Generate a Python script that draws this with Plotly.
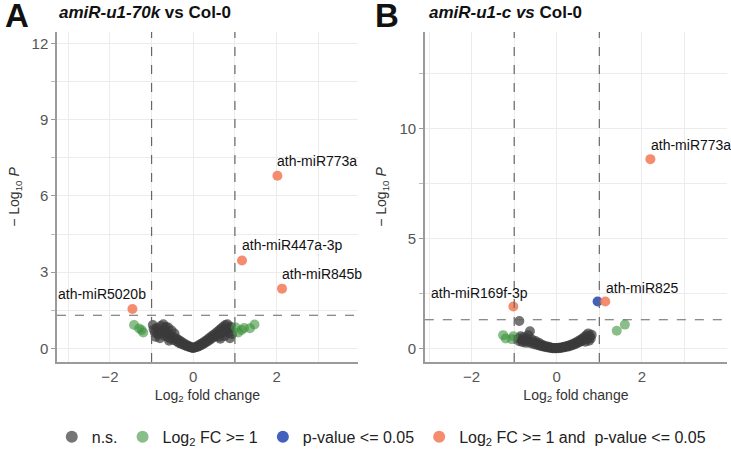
import plotly.graph_objects as go

# ---- panel A: amiR-u1-70k vs Col-0 ----
a_ns_x = [-0.97, -0.95, -0.92, -0.88, -0.85, -0.82, -0.78, -0.76, -0.72, -0.70, -0.68, -0.65, -0.62,
          -0.60, -0.57, -0.55, -0.52, -0.50, -0.47, -0.45, -0.42, -0.40, -0.37, -0.35, -0.32, -0.30,
          -0.27, -0.25, -0.22, -0.20, -0.17, -0.15, -0.12, -0.10, -0.07, -0.05, -0.03, 0.00, 0.02,
          0.05, 0.08, 0.10, 0.13, 0.15, 0.18, 0.20, 0.23, 0.25, 0.28, 0.30, 0.33, 0.35, 0.38, 0.40,
          0.43, 0.45, 0.48, 0.50, 0.53, 0.55, 0.58, 0.60, 0.63, 0.65, 0.67, 0.70, 0.72, 0.75, 0.77,
          0.80, 0.82, 0.85, 0.88, 0.90, 0.93, -0.90, -0.80, -0.66, -0.58, 0.62, 0.74, 0.86]
a_ns_y = [0.92, 0.75, 0.62, 0.80, 0.55, 0.70, 0.88, 0.60, 0.95, 0.50, 0.75, 0.62, 0.45,
          0.82, 0.55, 0.38, 0.70, 0.45, 0.33, 0.58, 0.40, 0.28, 0.35, 0.22, 0.30, 0.18,
          0.24, 0.15, 0.19, 0.11, 0.14, 0.08, 0.10, 0.05, 0.06, 0.03, 0.02, 0.01, 0.02,
          0.04, 0.07, 0.05, 0.12, 0.09, 0.17, 0.13, 0.22, 0.18, 0.28, 0.23, 0.33, 0.28, 0.40, 0.34,
          0.46, 0.40, 0.52, 0.45, 0.58, 0.50, 0.65, 0.56, 0.72, 0.38, 0.78, 0.62, 0.85, 0.48, 0.92,
          0.70, 0.95, 0.60, 0.40, 0.85, 0.55, 0.45, 0.40, 0.85, 0.30, 0.45, 0.65, 0.78]
a_fc_x = [-1.42, -1.30, -1.24, -1.20, 1.02, 1.08, 1.16, 1.22, 1.36, 1.47]
a_fc_y = [0.92, 0.78, 0.72, 0.62, 0.82, 0.62, 0.72, 0.80, 0.79, 0.94]
a_sig_x = [2.02, 1.17, 2.13, -1.46]
a_sig_y = [6.80, 3.46, 2.35, 1.55]
a_sig_lab = ["ath-miR773a", "ath-miR447a-3p", "ath-miR845b", "ath-miR5020b"]

# ---- panel B: amiR-u1-c vs Col-0 ----
b_ns_x = [-0.90, -0.88, -0.85, -0.82, -0.80, -0.77, -0.75, -0.72, -0.70, -0.67, -0.65, -0.63, -0.60,
          -0.58, -0.55, -0.52, -0.50, -0.47, -0.45, -0.42, -0.40, -0.37, -0.35, -0.32, -0.30, -0.27,
          -0.25, -0.22, -0.20, -0.17, -0.15, -0.12, -0.10, -0.07, -0.05, -0.02, 0.00, 0.03, 0.05,
          0.08, 0.10, 0.13, 0.15, 0.18, 0.20, 0.23, 0.25, 0.28, 0.30, 0.33, 0.35, 0.38, 0.40, 0.43,
          0.45, 0.48, 0.50, 0.53, 0.55, 0.58, 0.60, 0.62, 0.65, 0.67, 0.70, 0.72, 0.74, 0.76, 0.78,
          0.80, 0.82, -0.88]
b_ns_y = [0.45, 0.32, 0.55, 0.38, 0.28, 0.50, 0.35, 0.25, 0.42, 0.60, 0.30, 0.78, 0.22,
          0.40, 0.28, 0.18, 0.33, 0.22, 0.15, 0.25, 0.12, 0.18, 0.10, 0.14, 0.07, 0.10,
          0.05, 0.08, 0.04, 0.06, 0.02, 0.03, 0.01, 0.02, 0.00, 0.01, 0.02, 0.01, 0.03,
          0.02, 0.04, 0.03, 0.06, 0.05, 0.08, 0.07, 0.11, 0.09, 0.14, 0.12, 0.18, 0.15, 0.22, 0.19,
          0.27, 0.23, 0.32, 0.28, 0.38, 0.33, 0.45, 0.38, 0.52, 0.30, 0.60, 0.42, 0.68, 0.35, 0.55,
          0.45, 0.62, 1.24]
b_fc_x = [-1.26, -1.20, -1.06, -1.02, 1.41, 1.60]
b_fc_y = [0.60, 0.45, 0.42, 0.55, 0.80, 1.08]
b_p_x = [0.96]
b_p_y = [2.13]
b_sig_x = [2.20, 1.14, -1.02]
b_sig_y = [8.60, 2.13, 1.90]
b_sig_lab = ["ath-miR773a", "ath-miR825", "ath-miR169f-3p"]

FONT = "Liberation Sans, Arial, sans-serif"
GREY = "#3a3a3a"
GREEN = "#3a933a"
BLUE = "#2f4fb5"
ORANGE = "#f57f5f"

fig = go.Figure()


def pts(x, y, color, op, name, xa, ya, legend):
    fig.add_trace(go.Scatter(x=x, y=y, mode="markers", name=name, xaxis=xa, yaxis=ya,
                             showlegend=legend,
                             marker=dict(size=10, color=color, opacity=op, line=dict(width=0))))


pts(a_ns_x, a_ns_y, GREY, 0.7, "n.s.", "x", "y", True)
pts(a_fc_x, a_fc_y, GREEN, 0.6, "Log<sub>2</sub> FC &gt;= 1", "x", "y", True)
pts(b_p_x, b_p_y, BLUE, 0.9, "p-value &lt;= 0.05", "x2", "y2", True)
pts(a_sig_x, a_sig_y, ORANGE, 0.9, "Log<sub>2</sub> FC &gt;= 1 and  p-value &lt;= 0.05", "x", "y", True)
pts(b_ns_x, b_ns_y, GREY, 0.7, "n.s.", "x2", "y2", False)
pts(b_fc_x, b_fc_y, GREEN, 0.6, "fc", "x2", "y2", False)
pts(b_sig_x, b_sig_y, ORANGE, 0.9, "sig", "x2", "y2", False)

# point labels
for xv, yv, t in zip(a_sig_x, a_sig_y, a_sig_lab):
    right = xv < 0
    fig.add_annotation(x=xv, y=yv, xref="x", yref="y", text=t, showarrow=False,
                       xanchor="right" if right else "left", yanchor="bottom",
                       xshift=16 if right else -2, yshift=5,
                       font=dict(family=FONT, size=14, color="#111"))
for xv, yv, t in zip(b_sig_x, b_sig_y, b_sig_lab):
    right = xv < 0
    fig.add_annotation(x=xv, y=yv, xref="x2", yref="y2", text=t, showarrow=False,
                       xanchor="right" if right else "left", yanchor="bottom",
                       xshift=17 if right else -1, yshift=4,
                       font=dict(family=FONT, size=14, color="#111"))

# threshold lines
for xa, ya in [("x", "y"), ("x2", "y2")]:
    for xv in [-1, 1]:
        fig.add_shape(type="line", xref=xa, yref=ya + " domain", x0=xv, x1=xv, y0=0, y1=1,
                      line=dict(color="#666", width=1.2, dash="dash"))
    fig.add_shape(type="line", xref=xa + " domain", yref=ya, x0=0, x1=1, y0=1.301, y1=1.301,
                  line=dict(color="#666", width=1.2, dash="dash"))

axis_common = dict(showline=True, linecolor="#9a9a9a", linewidth=1.5, zeroline=False,
                   automargin=False,
                   gridcolor="#ececec", tickfont=dict(family=FONT, size=15, color="#555"),
                   title_font=dict(family=FONT, size=14, color="#333"))

fig.update_layout(
    width=731, height=451,
    margin=dict(l=57, r=4, t=32, b=89, autoexpand=False),
    plot_bgcolor="white", paper_bgcolor="white",
    font=dict(family=FONT),
    xaxis=dict(domain=[0, 0.449], range=[-3.27, 3.95], tickvals=[-2, 0, 2], ticks="",
               minor=dict(dtick=1, tick0=1, showgrid=True, gridcolor="#ececec"),
               title=dict(text="Log<sub>2</sub> fold change", standoff=6), **axis_common),
    yaxis=dict(range=[-0.54, 12.46], tickvals=[0, 3, 6, 9, 12], ticks="outside", ticklen=4,
               tickcolor="#9a9a9a",
               minor=dict(dtick=3, tick0=1.5, ticks="outside", ticklen=4, tickcolor="#bbb",
                          showgrid=True, gridcolor="#ececec"),
               title=dict(text="\u2212 Log<sub>10</sub> <i>P</i>", standoff=9), **axis_common),
    xaxis2=dict(domain=[0.549, 1], range=[-3.1, 4.0], tickvals=[-2, 0, 2, 4], ticks="",
                minor=dict(dtick=1, tick0=1, showgrid=True, gridcolor="#ececec"),
                title=dict(text="Log<sub>2</sub> fold change", standoff=6), anchor="y2",
                **axis_common),
    yaxis2=dict(range=[-0.62, 14.38], tickvals=[0, 5, 10], ticks="outside", ticklen=4,
                tickcolor="#9a9a9a", anchor="x2",
                minor=dict(dtick=5, tick0=2.5, ticks="outside", ticklen=4, tickcolor="#bbb",
                           showgrid=True, gridcolor="#ececec"),
                title=dict(text="\u2212 Log<sub>10</sub> <i>P</i>", standoff=9), **axis_common),
    legend=dict(orientation="h", x=0.484, xanchor="center", y=-0.227, yanchor="middle",
                font=dict(family=FONT, size=16, color="#222"), itemsizing="constant"),
)

fig.add_annotation(x=-0.0806, y=1.0485, xref="paper", yref="paper", text="<b>A</b>",
                   showarrow=False, xanchor="left", yanchor="middle",
                   font=dict(family=FONT, size=33, color="#111"))
fig.add_annotation(x=0.4716, y=1.0485, xref="paper", yref="paper", text="<b>B</b>",
                   showarrow=False, xanchor="left", yanchor="middle",
                   font=dict(family=FONT, size=33, color="#111"))
fig.add_annotation(x=0, y=1.0576, xref="paper", yref="paper",
                   text="<b><i>amiR-u1-70k</i> vs Col-0</b>",
                   showarrow=False, xanchor="left", yanchor="middle",
                   font=dict(family=FONT, size=17, color="#111"))
fig.add_annotation(x=0.552, y=1.0576, xref="paper", yref="paper",
                   text="<b><i>amiR-u1-c vs</i> Col-0</b>",
                   showarrow=False, xanchor="left", yanchor="middle",
                   font=dict(family=FONT, size=17, color="#111"))

# drop the default page margin so the figure sits at the window's top-left corner
fig.write_html("out.html", config={"displayModeBar": False},
               post_script="document.body.style.margin='0';")
